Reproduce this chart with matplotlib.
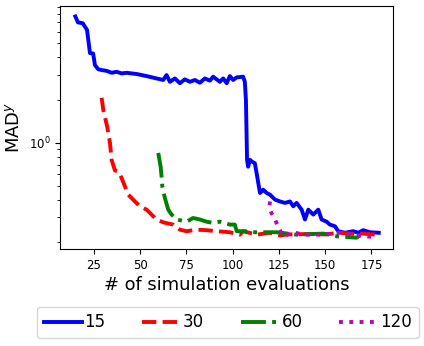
import matplotlib
matplotlib.use("Agg")
import matplotlib.pyplot as plt

# MAD^y per number of simulation evaluations, one line per initial sample size
x15 = [15, 16.4, 19, 21.3, 22.9, 24.6, 25.6, 27.4, 29.2, 31.9, 34.6, 37.3, 40, 42.7,
       45.4, 48.1, 53.5, 58.9, 62.5, 64.3, 66.1, 68.8, 71.5, 74.2, 76.9, 79.6, 82.3,
       85, 87.7, 89.5, 93.1, 94.9, 96.8, 98.5, 100.3, 102.2, 105.7, 106.6, 107.2,
       107.8, 108.4, 109.4, 110.3, 112, 113, 114.8, 116.5, 118.4, 120.2, 122.9,
       125.6, 128.3, 131, 132.8, 134.6, 137.3, 139.1, 140.9, 143.6, 146.3, 148.1,
       150.8, 152.6, 155.3, 157.1, 160.7, 165.2, 167.9, 170.6, 174.2, 179]
y15 = [7.7, 7.0, 6.9, 6.2, 4.26, 4.24, 3.51, 3.28, 3.24, 3.20, 3.10, 3.15, 3.07, 3.10,
       3.07, 3.04, 2.94, 2.83, 2.76, 2.99, 2.68, 2.83, 2.62, 2.79, 2.68, 2.76, 2.64,
       2.83, 2.73, 2.91, 2.68, 2.83, 2.62, 2.94, 2.76, 2.88, 2.91, 2.68, 2.0,
       0.76, 0.68, 0.76, 0.74, 0.72, 0.61, 0.445, 0.469, 0.445, 0.433, 0.40,
       0.388, 0.379, 0.388, 0.359, 0.379, 0.34, 0.29, 0.34, 0.314, 0.34, 0.29,
       0.28, 0.267, 0.26, 0.24, 0.234, 0.24, 0.234, 0.244, 0.236, 0.234]

x30 = [29.2, 30.1, 32.2, 33.7, 34.6, 36.4, 38.2, 40, 41.8, 43.6, 47.2, 49.9, 53.5,
       56.2, 58.9, 62.5, 67.9, 71.5, 75.1, 80.5, 85.9, 91.4, 98.5, 103.9, 105.7,
       113, 120.2, 125.6, 130, 140, 150, 158, 165, 170.6, 177.8, 179.5]
y30 = [2.07, 1.70, 1.30, 1.0, 0.76, 0.64, 0.63, 0.567, 0.495, 0.433, 0.388, 0.359, 0.34,
       0.314, 0.29, 0.277, 0.267, 0.246, 0.24, 0.246, 0.244, 0.24, 0.236, 0.227, 0.24,
       0.227, 0.234, 0.224, 0.228, 0.229, 0.228, 0.234, 0.23, 0.231, 0.227, 0.23]

x60 = [59.8, 61.1, 61.6, 62.0, 63.4, 65.2, 67, 69.7, 75.1, 78.7, 82.3, 85.9, 89.5,
       93.1, 98.5, 101.2, 102.2, 106.6, 112, 123.8, 134.6, 149, 156.2, 167, 168.8]
y60 = [0.85, 0.68, 0.58, 0.495, 0.41, 0.34, 0.314, 0.29, 0.28, 0.297, 0.29, 0.28, 0.274,
       0.28, 0.267, 0.267, 0.24, 0.24, 0.236, 0.236, 0.227, 0.231, 0.221, 0.216, 0.224]

x120 = [120.2, 119.8, 121.1, 122.9, 125.2, 127.4, 132.8, 138.2, 148, 158, 168.8, 175.1]
y120 = [0.388, 0.35, 0.32, 0.29, 0.249, 0.221, 0.236, 0.227, 0.227, 0.234, 0.224, 0.219]

fig = plt.figure(figsize=(4.24, 3.46), dpi=100)
ax = fig.add_axes([0.1415, 0.2803, 0.785, 0.702])

lw = 2.8
ax.plot(x15, y15, color='b', linestyle='-', linewidth=lw, label='15')
ax.plot(x30, y30, color='r', linestyle='--', linewidth=lw, label='30')
ax.plot(x60, y60, color='g', linestyle='-.', linewidth=lw, label='60')
ax.plot(x120, y120, color='m', linestyle=':', linewidth=lw, label='120')

ax.set_yscale('log')
ax.set_xlim(6.7, 186.6)
ax.set_ylim(0.18, 9.1)
ax.set_xticks([25, 50, 75, 100, 125, 150, 175])
ax.tick_params(axis='both', which='major', labelsize=8.5)

ax.set_xlabel("# of simulation evaluations", fontsize=12.9, labelpad=3)
ax.set_ylabel("MAD$^y$", fontsize=12.9)

fig.legend(loc='center', bbox_to_anchor=(0.537, 0.068), ncol=4, fontsize=12,
           handlelength=2.3, handletextpad=0.15, columnspacing=2.2)

fig.savefig("out.png", dpi=100)
